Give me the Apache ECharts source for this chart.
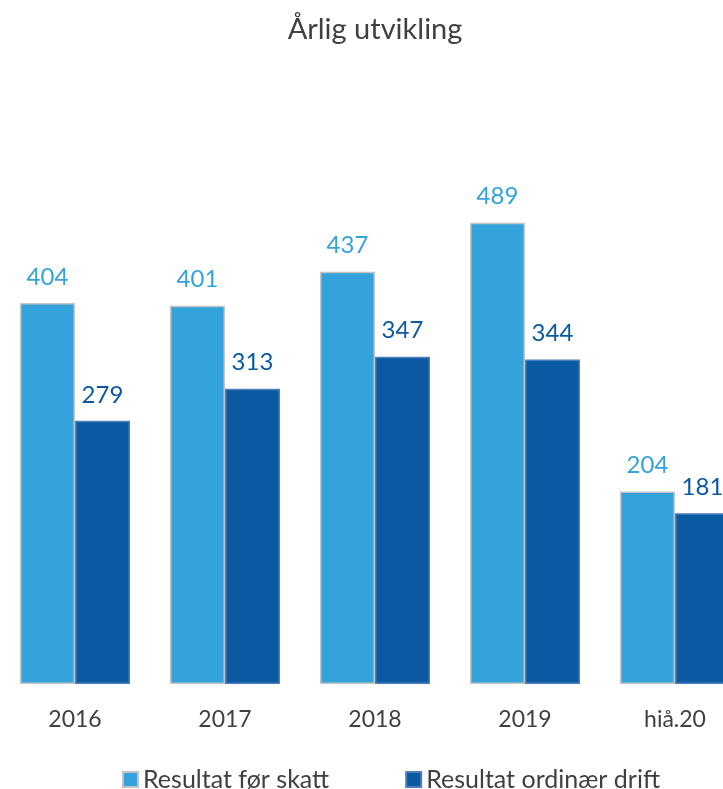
<!DOCTYPE html>
<html lang="no">

<head>
  <meta charset="utf-8" />
  <title>Årlig utvikling</title>
  <script src="https://cdn.jsdelivr.net/npm/echarts@6/dist/echarts.min.js"></script>
  <style>
    * {
      margin: 0;
      padding: 0;
    }

    body {
      overflow: hidden;
    }

    #chart-container {
      position: relative;
      width: 750px;
      height: 789px;
    }
  </style>
</head>

<body>
  <div id="chart-container"></div>

  <script>
    const categories = ["2016", "2017", "2018", "2019", "hiå.20"];
    const forSkatt = [404, 401, 437, 489, 204];
    const ordinaerDrift = [279, 313, 347, 344, 181];

    var dom = document.getElementById("chart-container");
    var myChart = echarts.init(dom, null, { renderer: "canvas" });

    var font = "Lato, 'Open Sans', sans-serif";

    var option = {
      animation: false,
      title: {
        text: "Årlig utvikling",
        left: "center",
        top: 10,
        textStyle: {
          fontFamily: font,
          fontSize: 29,
          fontWeight: "normal",
          color: "#404040",
        },
      },
      legend: {
        left: 117,
        top: 762,
        itemWidth: 15,
        itemHeight: 15,
        itemGap: 76,
        icon: "rect",
        textStyle: {
          fontFamily: font,
          fontSize: 25,
          color: "#404040",
          padding: [0, 0, 0, 0],
        },
      },
      grid: {
        left: -4,
        top: 118,
        width: 755,
        bottom: 105,
        containLabel: false,
      },
      xAxis: {
        type: "category",
        data: categories,
        axisLine: { show: false },
        axisTick: { show: false },
        axisLabel: {
          margin: 24,
          fontFamily: font,
          fontSize: 23,
          color: "#404040",
        },
      },
      yAxis: {
        type: "value",
        min: 0,
        max: 600,
        show: false,
        splitLine: { show: false },
      },
      series: [
        {
          name: "Resultat før skatt",
          type: "bar",
          data: forSkatt,
          barWidth: 55,
          barGap: "0%",
          itemStyle: {
            color: "#35a3db",
            borderColor: "#c4c4c4",
            borderWidth: 1.5,
          },
          label: {
            show: true,
            position: "top",
            distance: 14,
            fontFamily: font,
            fontSize: 24,
            color: "#35a3db",
          },
        },
        {
          name: "Resultat ordinær drift",
          type: "bar",
          data: ordinaerDrift,
          barWidth: 55,
          itemStyle: {
            color: "#0b5aa1",
            borderColor: "#4a7fc0",
            borderWidth: 1.5,
          },
          label: {
            show: true,
            position: "top",
            distance: 14,
            fontFamily: font,
            fontSize: 24,
            color: "#0b5aa1",
          },
        },
      ],
    };

    myChart.setOption(option);
    window.addEventListener("resize", myChart.resize);
  </script>
</body>

</html>
